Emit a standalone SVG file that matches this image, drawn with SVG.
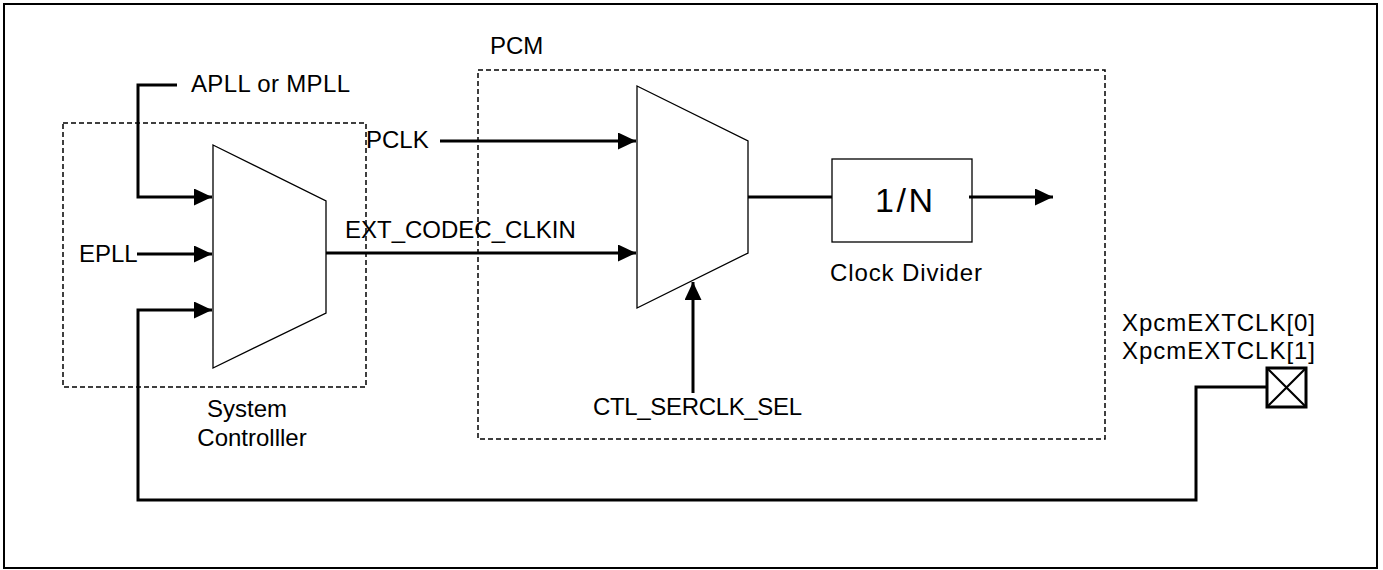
<svg xmlns="http://www.w3.org/2000/svg" width="1383" height="570" viewBox="0 0 1383 570">
<style>
text{font-family:"Liberation Sans",Arial,sans-serif;font-size:24px;fill:#000}
.wire{fill:none;stroke:#000;stroke-width:3}
.mux{fill:#fff;stroke:#000;stroke-width:1.3}
.dash{fill:none;stroke:#000;stroke-width:1.5;stroke-dasharray:5,3}
</style>
<defs>
<marker id="arr" markerUnits="userSpaceOnUse" markerWidth="19" markerHeight="17" refX="18" refY="8.5" orient="auto">
<path d="M0,0 L18,8.5 L0,17 z" fill="#000"/>
</marker>
</defs>
<rect x="0" y="0" width="1383" height="570" fill="#fff"/>
<rect x="4" y="4" width="1373" height="564" fill="none" stroke="#000" stroke-width="2"/>

<g id="system-controller">
<rect class="dash" x="63" y="123" width="303" height="264"/>
<path class="mux" d="M213,145 L326,201 L326,313 L213,368 Z"/>
<text x="247" y="417" text-anchor="middle">System</text>
<text x="252" y="446" text-anchor="middle">Controlller</text>
</g>

<g id="pcm">
<rect class="dash" x="478" y="70" width="627" height="369"/>
<text x="490" y="54">PCM</text>
</g>

<g id="pcm-mux">
<path class="mux" d="M637,86 L748,141 L748,253 L637,308 Z"/>
</g>

<g id="clock-divider">
<rect x="832" y="159" width="140" height="83" fill="#fff" stroke="#000" stroke-width="1.3"/>
<text x="875" y="212" style="font-size:34px" textLength="58" lengthAdjust="spacing">1/N</text>
<text x="830" y="281" textLength="152" lengthAdjust="spacing">Clock Divider</text>
</g>

<g id="pad">
<rect x="1267" y="368" width="39" height="39" fill="#fff" stroke="#000" stroke-width="3"/>
<path d="M1267,368 L1306,407 M1306,368 L1267,407" stroke="#000" stroke-width="2.2"/>
<text x="1122" y="331" textLength="193" lengthAdjust="spacing">XpcmEXTCLK[0]</text>
<text x="1122" y="359" textLength="193" lengthAdjust="spacing">XpcmEXTCLK[1]</text>
</g>

<g id="labels">
<text x="191" y="92" textLength="159" lengthAdjust="spacing">APLL or MPLL</text>
<text x="79" y="262">EPLL</text>
<text x="366" y="148">PCLK</text>
<text x="345" y="238">EXT_CODEC_CLKIN</text>
<text x="593" y="415" textLength="209" lengthAdjust="spacing">CTL_SERCLK_SEL</text>
</g>

<g id="connectors">
<path class="wire" d="M177,85 H138 V197 H212" marker-end="url(#arr)"/>
<path class="wire" d="M137,254 H212" marker-end="url(#arr)"/>
<path class="wire" d="M1267,387 H1196 V500 H138 V310 H212" marker-end="url(#arr)"/>
<path class="wire" d="M326,253 H636" marker-end="url(#arr)"/>
<path class="wire" d="M440,141 H636" marker-end="url(#arr)"/>
<path class="wire" d="M748,197 H832"/>
<path class="wire" d="M969,197 H1053" marker-end="url(#arr)"/>
<path class="wire" d="M693,393 V282" marker-end="url(#arr)"/>
</g>
</svg>
